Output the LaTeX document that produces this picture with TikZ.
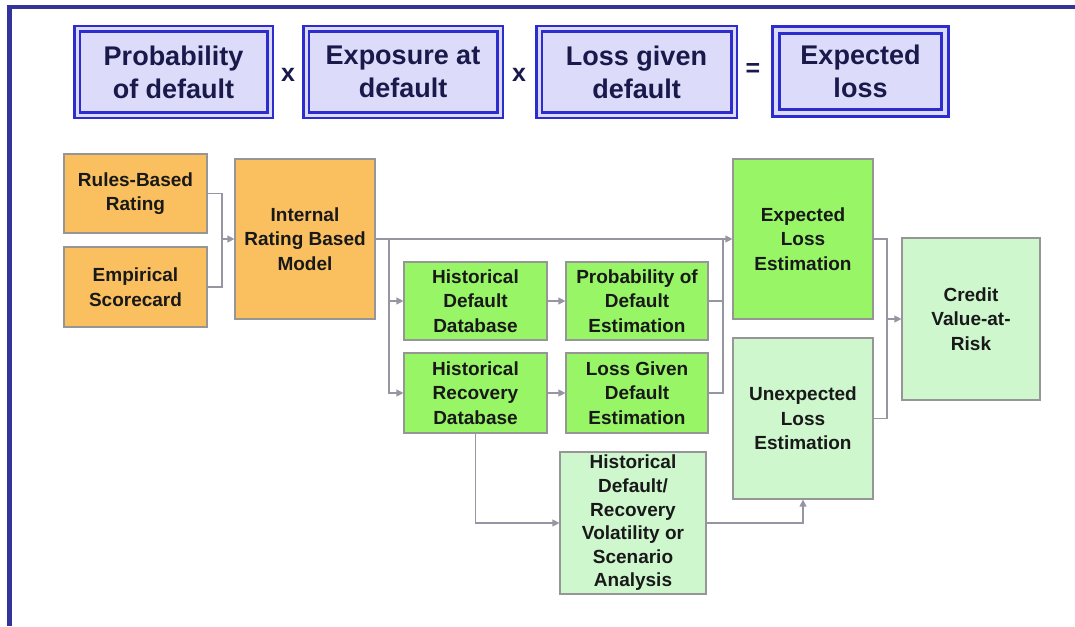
\documentclass[tikz,border=0pt]{standalone}
\usepackage{fontspec}
\setmainfont{Liberation Sans}
\usetikzlibrary{arrows.meta}
\definecolor{frameblue}{RGB}{51,51,153}
\definecolor{topblue}{RGB}{45,45,205}
\definecolor{lav}{RGB}{220,220,250}
\definecolor{navy}{RGB}{25,25,75}
\definecolor{orangefill}{RGB}{250,192,96}
\definecolor{greenfill}{RGB}{152,245,102}
\definecolor{lgreenfill}{RGB}{206,247,206}
\definecolor{edgegray}{RGB}{150,150,150}
\definecolor{conngray}{RGB}{150,150,162}
\definecolor{txt}{RGB}{25,25,25}
\tikzset{
  topbox/.style={draw=topblue, double=lav, double distance=3pt, line width=2.6pt,
    fill=lav, inner sep=0pt, align=center, text=navy,
    font=\fontsize{27}{33}\selectfont\bfseries},
  opbox/.style={inner sep=0pt, text=navy, font=\fontsize{25}{28}\selectfont\bfseries},
  dbox/.style={draw=edgegray, line width=1.2pt, inner sep=0pt, align=center,
    text=txt, font=\fontsize{19}{24.5}\selectfont\bfseries},
  obox/.style={dbox, fill=orangefill},
  gbox/.style={dbox, fill=greenfill},
  lbox/.style={dbox, fill=lgreenfill},
  conn/.style={draw=conngray, line width=1.2pt},
  arr/.style={conn, -{Triangle[width=7pt,length=7pt]}}
}
\begin{document}
\begin{tikzpicture}[x=1pt,y=-1pt]
\useasboundingbox (0,0) rectangle (1075,626);
% frame
\draw[frameblue, line width=4.5pt] (9.5,626) -- (9.5,7) -- (1075,7);
% top formula
\node[topbox, minimum width=193pt, minimum height=86pt] (pdf) at (173.5,72) {Probability\\of default};
\node[topbox, minimum width=194pt, minimum height=86pt] (ead) at (403,72) {Exposure at\\default};
\node[topbox, minimum width=195pt, minimum height=86pt] (lgdt) at (636.5,72) {Loss given\\default};
\node[topbox, line width=3.2pt, double distance=3.6pt, minimum width=169pt, minimum height=83pt] (elt) at (860.5,71.5) {Expected\\loss};
\node[opbox] (x1) at (288,75) {x};
\node[opbox] (x2) at (519,75) {x};
\node[opbox] (eq) at (753,70) {=};
% main diagram
\node[obox, minimum width=143pt, minimum height=79pt] (rb) at (135.5,193.5) {Rules-Based\\Rating};
\node[obox, minimum width=143pt, minimum height=80pt] (es) at (135.5,287) {Empirical\\Scorecard};
\node[obox, minimum width=140pt, minimum height=160pt] (irb) at (305,239) {Internal\\Rating Based\\Model};
\node[gbox, minimum width=143pt, minimum height=78pt] (hd) at (475.5,301) {Historical\\Default\\Database};
\node[gbox, minimum width=142pt, minimum height=78pt] (pd) at (637,301) {Probability of\\Default\\Estimation};
\node[gbox, minimum width=143pt, minimum height=80pt] (hr) at (475.5,393) {Historical\\Recovery\\Database};
\node[gbox, minimum width=142pt, minimum height=80pt] (lgd) at (637,393) {Loss Given\\Default\\Estimation};
\node[lbox, minimum width=146pt, minimum height=142pt, font=\fontsize{19}{23.6}\selectfont\bfseries] (vol) at (633,523) {Historical\\Default/\\Recovery\\Volatility or\\Scenario\\Analysis};
\node[gbox, minimum width=140pt, minimum height=160pt] (el) at (803,239) {Expected\\Loss\\Estimation};
\node[lbox, minimum width=140pt, minimum height=161pt] (ul) at (803,418.5) {Unexpected\\Loss\\Estimation};
\node[lbox, minimum width=138pt, minimum height=162pt] (cvar) at (971,319) {Credit\\Value-at-\\Risk};
% junctions
\coordinate (j1) at (222,239);
\coordinate (j2) at (389,239);
\coordinate (j3) at (723,239);
\coordinate (j4) at (887,319);
% connectors
\draw[conn] (rb.east) -| (j1);
\draw[conn] (es.east) -| (j1);
\draw[arr] (j1) -- (irb.west);
\draw[arr] (irb.east) -- (el.west);
\draw[arr] (j2) |- (hd.west);
\draw[arr] (j2) |- (hr.west);
\draw[arr] (hd.east) -- (pd.west);
\draw[arr] (hr.east) -- (lgd.west);
\draw[conn] (pd.east) -| (j3);
\draw[conn] (lgd.east) -| (j3);
\draw[conn] (el.east) -| (j4);
\draw[conn] (ul.east) -| (j4);
\draw[arr] (j4) -- (cvar.west);
\draw[arr] (hr.south) |- (vol.west);
\draw[arr] (vol.east) -| (ul.south);
\end{tikzpicture}
\end{document}
